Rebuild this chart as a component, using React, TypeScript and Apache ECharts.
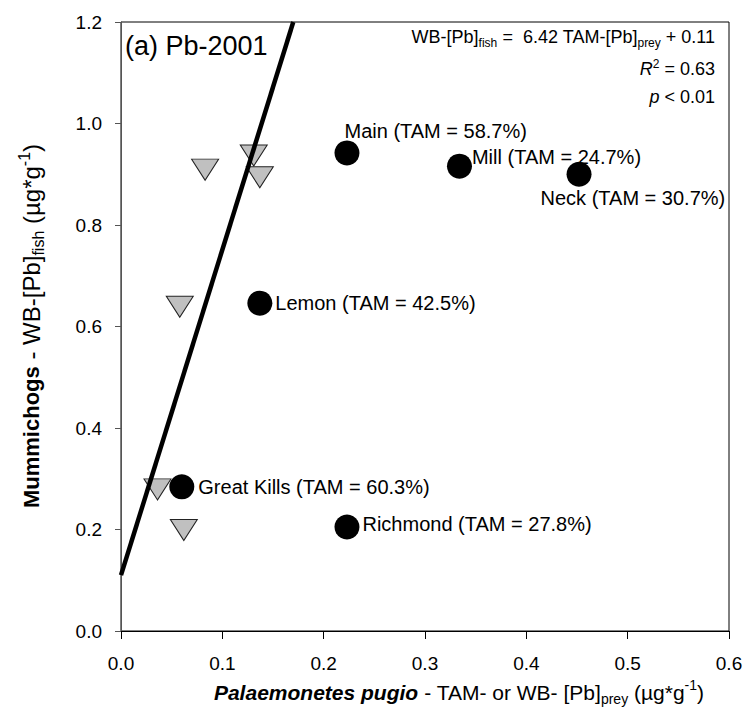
import React, { useEffect, useRef } from 'react';
import * as echarts from 'echarts';

// TAM-[Pb] of prey (x) vs whole-body [Pb] of fish (y), black circles
const siteNames = ['Main', 'Mill', 'Neck', 'Lemon', 'Great Kills', 'Richmond'];
const siteTAM = ['58.7%', '24.7%', '30.7%', '42.5%', '60.3%', '27.8%'];
const tamX = [0.223, 0.334, 0.452, 0.137, 0.060, 0.223];
const fishY = [0.942, 0.916, 0.900, 0.646, 0.284, 0.205];

// WB-[Pb] of prey (x) vs fish (y), grey inverted triangles
const wbX = [0.083, 0.131, 0.137, 0.058, 0.036, 0.062];
const wbY = [0.909, 0.937, 0.894, 0.639, 0.279, 0.199];

// regression line endpoints (WB-[Pb]fish = 6.42 TAM-[Pb]prey + 0.11)
const regX = [0.0, 0.17];
const regY = [0.11, 1.2];

const xMin = 0, xMax = 0.6, xStep = 0.1;
const yMin = 0, yMax = 1.2, yStep = 0.2;

// layout of the site labels relative to their dots (px)
const labelOffsets: number[][] = [[-20, -22], [-5, -9], [-56, 24], [-2, 0], [-1, 0], [-2, -3]];

const FONT = 'Arial, "Liberation Sans", Helvetica, sans-serif';

export default function App() {
  const ref = useRef<HTMLDivElement>(null);
  useEffect(() => {
    const chart = echarts.init(ref.current!, null, { renderer: 'svg' });
    const option: any = {
      animation: false,
      backgroundColor: '#fff',
      textStyle: { fontFamily: FONT },
      grid: {
        left: 121, top: 22, width: 608, height: 609,
        show: true, borderColor: '#000', borderWidth: 1, backgroundColor: 'transparent',
      },
      xAxis: {
        type: 'value', min: xMin, max: xMax, interval: xStep,
        axisLine: { show: true, onZero: false, lineStyle: { color: '#000', width: 1 } },
        axisTick: { show: true, length: 8, lineStyle: { color: '#000' } },
        axisLabel: { margin: 23, fontSize: 19, color: '#000', fontFamily: FONT, formatter: (v: number) => v.toFixed(1) },
        splitLine: { show: false },
      },
      yAxis: {
        type: 'value', min: yMin, max: yMax, interval: yStep,
        axisLine: { show: true, onZero: false, lineStyle: { color: '#555', width: 1 } },
        axisTick: { show: true, length: 6, lineStyle: { color: '#555' } },
        axisLabel: { margin: 19, fontSize: 19, color: '#000', fontFamily: FONT, formatter: (v: number) => v.toFixed(1) },
        splitLine: { show: false },
      },
      series: [
        {
          type: 'scatter', z: 2,
          symbol: 'triangle', symbolRotate: 180, symbolSize: [27, 21],
          itemStyle: { color: '#c0c0c0', borderColor: '#222', borderWidth: 1, opacity: 1 },
          emphasis: { disabled: true },
          data: wbX.map((x, i) => [x, wbY[i]]),
        },
        {
          type: 'line', z: 3, showSymbol: false, symbol: 'none',
          lineStyle: { color: '#000', width: 4.5, opacity: 1 },
          emphasis: { disabled: true },
          data: regX.map((x, i) => [x, regY[i]]),
        },
        {
          type: 'scatter', z: 4,
          symbol: 'circle', symbolSize: 25,
          itemStyle: { color: '#000', opacity: 1 },
          emphasis: { disabled: true },
          label: {
            show: true, position: 'right', distance: 5,
            fontSize: 20, color: '#000', opacity: 1, fontFamily: FONT,
            formatter: (p: any) => `${siteNames[p.dataIndex]} (TAM = ${siteTAM[p.dataIndex]})`,
          },
          data: tamX.map((x, i) => ({ value: [x, fishY[i]], label: { offset: labelOffsets[i] } })),
        },
      ],
      graphic: [
        {
          type: 'text', x: 125, y: 46,
          style: { text: '(a) Pb-2001', fontSize: 27, fontFamily: FONT, fill: '#000', align: 'left', verticalAlign: 'middle' },
        },
        {
          type: 'text', x: 715, y: 37,
          style: {
            text: '{a|WB-[Pb]}{sub|fish}{a| =  6.42 TAM-[Pb]}{sub|prey}{a| + 0.11}',
            align: 'right', verticalAlign: 'middle', fill: '#000', fontFamily: FONT,
            rich: {
              a: { fontSize: 18, lineHeight: 23, verticalAlign: 'middle', fontFamily: FONT, fill: '#000' },
              sub: { fontSize: 12, verticalAlign: 'bottom', fontFamily: FONT, fill: '#000' },
            },
          },
        },
        {
          type: 'text', x: 715, y: 69,
          style: {
            text: '{i|R}{sup|2}{a| = 0.63}',
            align: 'right', verticalAlign: 'middle', fill: '#000', fontFamily: FONT,
            rich: {
              a: { fontSize: 18, lineHeight: 23, verticalAlign: 'middle', fontFamily: FONT, fill: '#000' },
              i: { fontSize: 18, lineHeight: 23, verticalAlign: 'middle', fontStyle: 'italic', fontFamily: FONT, fill: '#000' },
              sup: { fontSize: 12, verticalAlign: 'top', fontFamily: FONT, fill: '#000' },
            },
          },
        },
        {
          type: 'text', x: 715, y: 97,
          style: {
            text: '{i|p}{a| < 0.01}',
            align: 'right', verticalAlign: 'middle', fill: '#000', fontFamily: FONT,
            rich: {
              a: { fontSize: 18, lineHeight: 23, verticalAlign: 'middle', fontFamily: FONT, fill: '#000' },
              i: { fontSize: 18, lineHeight: 23, verticalAlign: 'middle', fontStyle: 'italic', fontFamily: FONT, fill: '#000' },
            },
          },
        },
        {
          type: 'text', x: 459, y: 692,
          style: {
            text: '{bi|Palaemonetes pugio}{n| - TAM- or WB- [Pb]}{sub|prey}{n| (µg*g}{sup|-1}{n|)}',
            align: 'center', verticalAlign: 'middle', fill: '#000', fontFamily: FONT,
            rich: {
              bi: { fontSize: 21, lineHeight: 28, verticalAlign: 'middle', fontWeight: 'bold', fontStyle: 'italic', fontFamily: FONT, fill: '#000' },
              n: { fontSize: 21, lineHeight: 28, verticalAlign: 'middle', fontFamily: FONT, fill: '#000' },
              sub: { fontSize: 14, verticalAlign: 'bottom', fontFamily: FONT, fill: '#000' },
              sup: { fontSize: 14, verticalAlign: 'top', fontFamily: FONT, fill: '#000' },
            },
          },
        },
        {
          type: 'text', x: 31, y: 326, rotation: Math.PI / 2,
          style: {
            text: '{b|Mummichogs}{n| - WB-[Pb]}{sub|fish}{n| (µg*g}{sup|-1}{n|)}',
            align: 'center', verticalAlign: 'middle', fill: '#000', fontFamily: FONT,
            rich: {
              b: { fontSize: 22, lineHeight: 30, verticalAlign: 'middle', fontWeight: 'bold', fontFamily: FONT, fill: '#000' },
              n: { fontSize: 24, lineHeight: 30, verticalAlign: 'middle', fontFamily: FONT, fill: '#000' },
              sub: { fontSize: 16, verticalAlign: 'bottom', fontFamily: FONT, fill: '#000' },
              sup: { fontSize: 16, verticalAlign: 'top', fontFamily: FONT, fill: '#000' },
            },
          },
        },
      ],
    };
    chart.setOption(option);
    return () => chart.dispose();
  }, []);
  return (
    <div
      ref={ref}
      style={{ position: 'fixed', left: 0, top: 0, width: 748, height: 712, background: '#fff' }}
    />
  );
}
